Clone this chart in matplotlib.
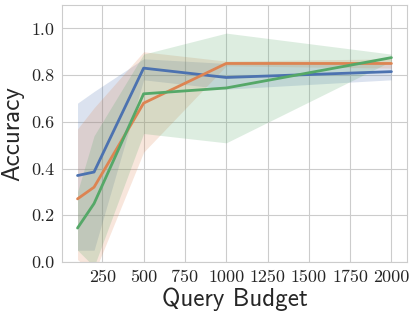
import numpy as np
import matplotlib
matplotlib.use("Agg")
import matplotlib.pyplot as plt
import seaborn as sns

budgets = [100, 200, 500, 1000, 2000]

blue_mean = [0.37, 0.385, 0.83, 0.79, 0.815]
blue_low = [0.05, 0.05, 0.78, 0.74, 0.78]
blue_high = [0.68, 0.73, 0.87, 0.85, 0.85]

orange_mean = [0.27, 0.32, 0.68, 0.85, 0.85]
orange_low = [0.01, -0.05, 0.47, 0.84, 0.83]
orange_high = [0.57, 0.66, 0.90, 0.86, 0.87]

green_mean = [0.145, 0.25, 0.72, 0.745, 0.875]
green_low = [0.05, -0.02, 0.55, 0.51, 0.86]
green_high = [0.30, 0.54, 0.89, 0.98, 0.89]

sns.set_style("whitegrid")
palette = sns.color_palette("deep")

fig = plt.figure(figsize=(4.15, 3.19), dpi=100)
ax = fig.add_axes([0.149, 0.179, 0.832, 0.805])

series = [
    (blue_mean, blue_low, blue_high, palette[0]),
    (orange_mean, orange_low, orange_high, palette[1]),
    (green_mean, green_low, green_high, palette[2]),
]
for mean, low, high, col in series:
    ax.fill_between(budgets, low, high, color=col, alpha=0.2, linewidth=0)
    ax.plot(budgets, mean, color=col, linewidth=2)

ax.set_ylim(0, 1.1)
ax.set_xticks(np.arange(250, 2001, 250))
ax.set_yticks(np.arange(0, 1.01, 0.2))
ax.set_xticklabels([str(v) for v in range(250, 2001, 250)], family="cmr10", fontsize=13)
ax.set_yticklabels(["%.1f" % v for v in np.arange(0, 1.01, 0.2)], family="cmr10", fontsize=13)
ax.tick_params(axis="both", pad=2)

ax.set_xlabel("Query Budget", family="cmss10", fontsize=18, labelpad=2)
ax.set_ylabel("Accuracy", family="cmss10", fontsize=18, labelpad=5)

fig.savefig("out.png", dpi=100)
